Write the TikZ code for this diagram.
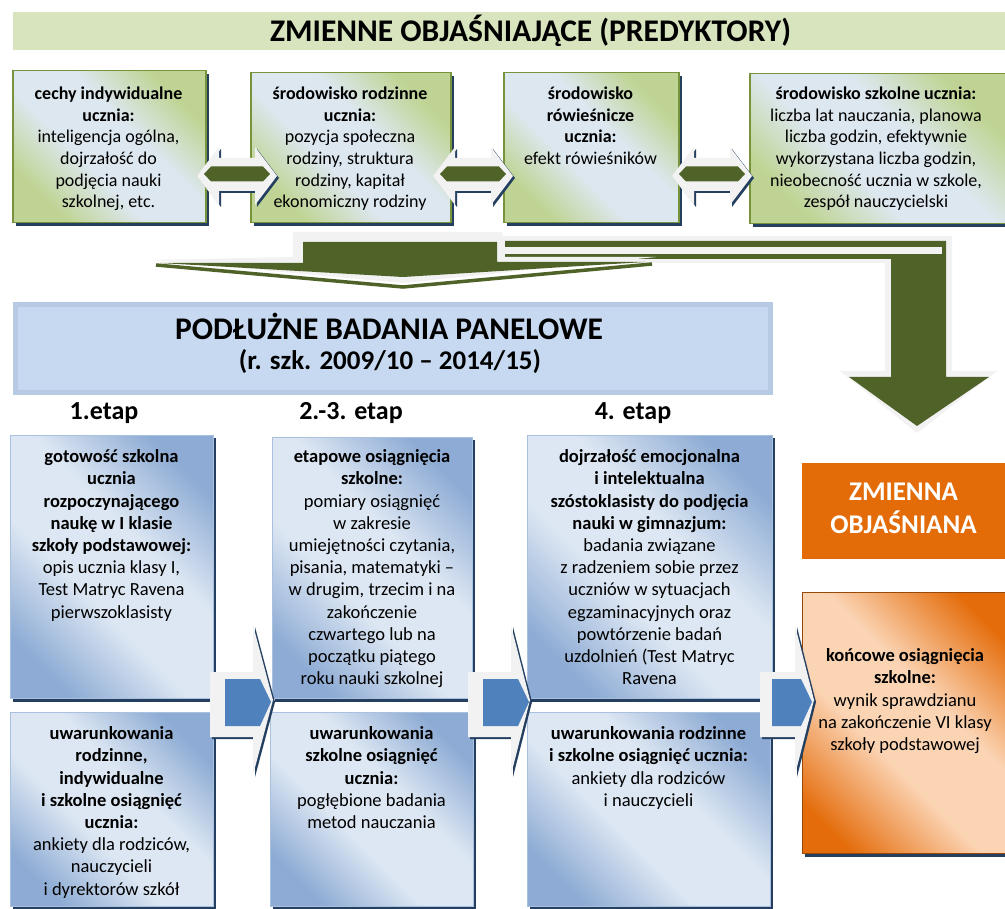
\documentclass[tikz,border=0pt]{standalone}
\usepackage{fontspec}
\setmainfont{Carlito}
\usetikzlibrary{shadows}
\definecolor{titlegreen}{HTML}{D7E4BD}
\definecolor{bordergreen}{HTML}{77933C}
\definecolor{gcorner}{HTML}{BFD494}
\definecolor{glight}{HTML}{DDE7EF}
\definecolor{navy}{HTML}{243F60}
\definecolor{darkgreen}{HTML}{4F6228}
\definecolor{arrowgray}{HTML}{F2F2F2}
\definecolor{panelfill}{HTML}{C6D9F1}
\definecolor{panelborder}{HTML}{B6CAE4}
\definecolor{bcorner}{HTML}{8DABD4}
\definecolor{blight}{HTML}{DDE7F3}
\definecolor{bborder}{HTML}{A9C0DF}
\definecolor{arrowblue}{HTML}{4F81BD}
\definecolor{orangeS}{HTML}{E36C09}
\definecolor{ocorner}{HTML}{E46C0A}
\definecolor{olight}{HTML}{FBD4B4}
\definecolor{oborder}{HTML}{984807}
\pgfdeclareverticalshading{gshade}{100bp}{color(0bp)=(gcorner); color(26bp)=(gcorner); color(42bp)=(glight); color(58bp)=(glight); color(74bp)=(gcorner); color(100bp)=(gcorner)}
\pgfdeclareverticalshading{bshade}{100bp}{color(0bp)=(bcorner); color(24bp)=(bcorner); color(42bp)=(blight); color(58bp)=(blight); color(76bp)=(bcorner); color(100bp)=(bcorner)}
\pgfdeclareverticalshading{oshade}{100bp}{color(0bp)=(ocorner); color(22bp)=(ocorner); color(42bp)=(olight); color(58bp)=(olight); color(78bp)=(ocorner); color(100bp)=(ocorner)}
\newcommand\dblarr[1]{%
  \fill[navy, shift={(#1)}, xshift=2pt, yshift=-2pt] (-40,2) -- (-18,-27) -- (-18,-16) -- (18,-16) -- (18,-27) -- (40,2) -- (18,31) -- (18,17) -- (-18,17) -- (-18,31) -- cycle;
  \fill[arrowgray, shift={(#1)}] (-40,2) -- (-18,-27) -- (-18,-16) -- (18,-16) -- (18,-27) -- (40,2) -- (18,31) -- (18,17) -- (-18,17) -- (-18,31) -- cycle;
  \fill[darkgreen, shift={(#1)}] (-33,0) -- (-26,-7.5) -- (26,-7.5) -- (33,0) -- (26,7.5) -- (-26,7.5) -- cycle;
}
\newcommand\chevarr[6]{%
  \fill[navy] (#1+2,674) -- (#2+2,674) -- (#2+2,627) -- (#3+2,702) -- (#2+2,777) -- (#2+2,739) -- (#1+2,739) -- cycle;
  \fill[arrowgray] (#1,672) -- (#2,672) -- (#2,625) -- (#3,700) -- (#2,775) -- (#2,737) -- (#1,737) -- cycle;
  \fill[arrowblue] (#4,679) -- (#5,679) -- (#6,702) -- (#5,726) -- (#4,726) -- cycle;
}
\begin{document}
\begin{tikzpicture}[x=1pt,y=-1pt,
  tbox/.style={draw=bordergreen, line width=1.5pt, shading=gshade, shading angle=-45, inner sep=0pt, anchor=north west,
    drop shadow={shadow xshift=3pt, shadow yshift=-3pt, fill=navy, opacity=1}},
  bbox/.style={draw=bborder, line width=1pt, shading=bshade, shading angle=-45, inner sep=0pt, anchor=north west,
    drop shadow={shadow xshift=2pt, shadow yshift=-3pt, fill=navy, opacity=1}},
  obox/.style={draw=oborder, line width=1pt, shading=oshade, shading angle=-45, inner sep=0pt, anchor=north west,
    drop shadow={shadow xshift=2pt, shadow yshift=-3pt, fill=navy, opacity=1}},
  ttxt/.style={inner sep=0pt, align=center, anchor=north, font=\fontsize{18}{21.7}\selectfont},
  btxt/.style={inner sep=0pt, align=center, anchor=north, font=\fontsize{18.5}{22.2}\selectfont},
  stage/.style={inner sep=0pt, anchor=base, font=\fontsize{26}{30}\selectfont\bfseries},
]
\useasboundingbox (0,0) rectangle (1005,909);
\clip (0,0) rectangle (1005,909);
\fill[white] (0,0) rectangle (1005,909);

% title band
\node[fill=titlegreen, minimum width=992pt, minimum height=38pt, anchor=north west, inner sep=0pt] (title) at (13,12) {};
\node[anchor=base, inner sep=0pt, font=\fontsize{31.5}{36}\selectfont\bfseries] (titletext) at (530.5,42) {ZMIENNE OBJAŚNIAJĄCE (PREDYKTORY)};

% predictor boxes
\node[tbox, minimum width=193pt, minimum height=152pt] (p1) at (12,70) {};
\node[tbox, minimum width=200pt, minimum height=150pt] (p2) at (250,72) {};
\node[tbox, minimum width=175pt, minimum height=150pt] (p3) at (503,72) {};
\node[tbox, minimum width=256pt, minimum height=150pt] (p4) at (749,73) {};

\node[ttxt] (t1) at (108.5,84) {\strut\textbf{cechy indywidualne}\\\textbf{ucznia:}\\inteligencja ogólna,\\dojrzałość do\\podjęcia nauki\\szkolnej, etc.};
\node[ttxt] (t2) at (350,84) {\strut\textbf{środowisko rodzinne}\\\textbf{ucznia:}\\pozycja społeczna\\rodziny, struktura\\rodziny, kapitał\\ekonomiczny rodziny};
\node[ttxt] (t3) at (590.5,84) {\strut\textbf{środowisko}\\\textbf{rówieśnicze}\\\textbf{ucznia:}\\efekt rówieśników};
\node[ttxt] (t4) at (876,84) {\strut\textbf{środowisko szkolne ucznia:}\\liczba lat nauczania, planowa\\liczba godzin, efektywnie\\wykorzystana liczba godzin,\\nieobecność ucznia w szkole,\\zespół nauczycielski};

% double arrows between predictors
\coordinate (a1) at (237,174);
\coordinate (a2) at (473,174);
\coordinate (a3) at (712,174);
\dblarr{a1}
\dblarr{a2}
\dblarr{a3}

% bent arrow B (to the explained variable)
\fill[arrowgray] (498,236) -- (952,236) -- (952,371) -- (997,371) -- (917,433) -- (840,371) -- (885,371) -- (885,263) -- (498,263) -- cycle;
\fill[darkgreen] (505,241) -- (946,241) -- (946,377) -- (989,377) -- (917,426) -- (849,377) -- (891,377) -- (891,259) -- (505,259) -- cycle;
\fill[arrowgray] (505,247) rectangle (942,254);

% arrow A (down to the panel study)
\draw[darkgreen, line width=3.5pt] (156,265) -- (403,287) -- (652,264);
\fill[arrowgray] (293,232) -- (502,232) -- (502,257) -- (656,257) -- (403,283) -- (152,260) -- (293,257) -- cycle;
\fill[darkgreen] (303,242) -- (497,242) -- (497,262) -- (645,262) -- (403,277) -- (160,263) -- (303,263) -- cycle;

% panel study box
\node[fill=panelfill, draw=panelborder, line width=5pt, minimum width=755pt, minimum height=88pt, anchor=north west, inner sep=0pt] (panel) at (12.5,302.5) {};
\node[anchor=base, inner sep=0pt, font=\fontsize{31.5}{36}\selectfont\bfseries] (paneltitle) at (389,340) {PODŁUŻNE BADANIA PANELOWE};
\node[anchor=base, inner sep=0pt, font=\fontsize{27}{32}\selectfont\bfseries] (panelyears) at (390,370) {(r. szk. 2009/10 – 2014/15)};

% stage labels
\node[stage] (s1) at (104,420) {1.etap};
\node[stage] (s2) at (351,420) {2.-3. etap};
\node[stage] (s3) at (633,420) {4. etap};

% stage boxes
\node[bbox, minimum width=203pt, minimum height=263pt] (c1u) at (10,435) {};
\node[bbox, minimum width=200pt, minimum height=261pt] (c2u) at (272,437) {};
\node[bbox, minimum width=245pt, minimum height=263pt] (c3u) at (527,435) {};
\node[bbox, minimum width=203pt, minimum height=194pt] (c1l) at (10,712) {};
\node[bbox, minimum width=203pt, minimum height=194pt] (c2l) at (270,712) {};
\node[bbox, minimum width=243pt, minimum height=194pt] (c3l) at (527,712) {};

% explained variable
\node[fill=orangeS, minimum width=203pt, minimum height=96pt, anchor=north west, inner sep=0pt] (zm) at (802,463) {};
\node[inner sep=0pt, align=center, anchor=north, text=white, font=\fontsize{27}{30}\selectfont\bfseries] (zmt) at (903.5,479.5) {\strut ZMIENNA\\OBJAŚNIANA};
\node[obox, minimum width=205pt, minimum height=261pt] (ko) at (802,592) {};

% texts
\node[btxt] (u1) at (111.5,447) {\strut\textbf{gotowość szkolna}\\\textbf{ucznia}\\\textbf{rozpoczynającego}\\\textbf{naukę w I klasie}\\\textbf{szkoły podstawowej:}\\opis ucznia klasy I,\\Test Matryc Ravena\\pierwszoklasisty};
\node[btxt] (u2) at (372,447) {\strut\textbf{etapowe osiągnięcia}\\\textbf{szkolne:}\\pomiary osiągnięć\\w zakresie\\umiejętności czytania,\\pisania, matematyki –\\w drugim, trzecim i na\\zakończenie\\czwartego lub na\\początku piątego\\roku nauki szkolnej};
\node[btxt] (u3) at (649.5,447) {\strut\textbf{dojrzałość emocjonalna}\\\textbf{i intelektualna}\\\textbf{szóstoklasisty do podjęcia}\\\textbf{nauki w gimnazjum:}\\badania związane\\z radzeniem sobie przez\\uczniów w sytuacjach\\egzaminacyjnych oraz\\powtórzenie badań\\uzdolnień (Test Matryc\\Ravena};
\node[btxt] (l1) at (111.5,724) {\strut\textbf{uwarunkowania}\\\textbf{rodzinne,}\\\textbf{indywidualne}\\\textbf{i szkolne osiągnięć}\\\textbf{ucznia:}\\ankiety dla rodziców,\\nauczycieli\\i dyrektorów szkół};
\node[btxt] (l2) at (371.5,724) {\strut\textbf{uwarunkowania}\\\textbf{szkolne osiągnięć}\\\textbf{ucznia:}\\pogłębione badania\\metod nauczania};
\node[btxt] (l3) at (648.5,724) {\strut\textbf{uwarunkowania rodzinne}\\\textbf{i szkolne osiągnięć ucznia:}\\ankiety dla rodziców\\i nauczycieli};
\node[btxt] (kt) at (905,646) {\strut\textbf{końcowe osiągnięcia}\\\textbf{szkolne:}\\wynik sprawdzianu\\na zakończenie VI klasy\\szkoły podstawowej};

% process arrows
\chevarr{210}{253}{273}{225}{260}{271}
\chevarr{468}{511}{530}{483}{518}{529}
\chevarr{760}{795}{814}{772}{801}{812}
\end{tikzpicture}
\end{document}
